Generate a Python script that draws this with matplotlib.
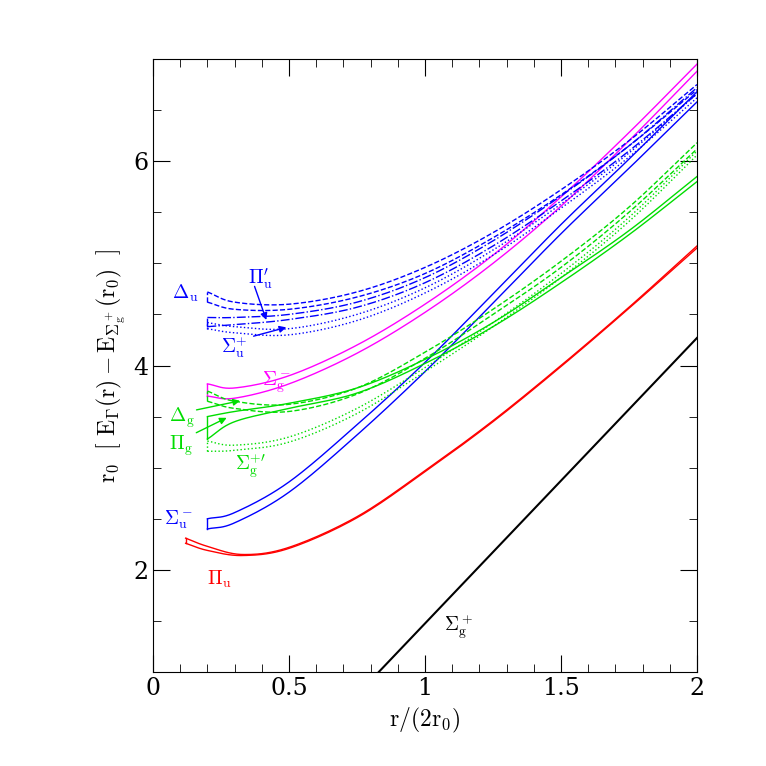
import numpy as np
import matplotlib
matplotlib.use("Agg")
import matplotlib.pyplot as plt
from matplotlib.ticker import MultipleLocator

plt.rcParams['mathtext.fontset'] = 'cm'
plt.rcParams['font.family'] = 'DejaVu Serif'

x_sgp = [0.83, 2.0]; y_sgp = [1.0, 4.27]

x_pu = [0.12, 0.2, 0.33, 0.5, 0.75, 1.0, 1.25, 1.5, 1.75, 2.0]
pu_hi = [2.31, 2.23, 2.15, 2.22, 2.52, 2.97, 3.46, 4.00, 4.57, 5.17]
pu_lo = [2.26, 2.19, 2.14, 2.21, 2.51, 2.96, 3.45, 3.99, 4.56, 5.15]

x_b = [0.2, 0.3, 0.5, 0.75, 1.0, 1.25, 1.5, 1.75, 2.0]
sum_hi = [2.50, 2.56, 2.86, 3.42, 4.03, 4.70, 5.38, 6.02, 6.68]
sum_lo = [2.40, 2.46, 2.76, 3.32, 3.94, 4.61, 5.29, 5.93, 6.58]

sgm_hi = [3.82, 3.78, 3.90, 4.20, 4.60, 5.08, 5.65, 6.28, 6.95]
sgm_lo = [3.70, 3.68, 3.82, 4.12, 4.52, 5.00, 5.56, 6.20, 6.88]

pig_hi = [3.50, 3.55, 3.63, 3.78, 4.06, 4.42, 4.86, 5.32, 5.85]
pig_lo = [3.28, 3.45, 3.58, 3.73, 4.02, 4.38, 4.81, 5.28, 5.80]

dg_hi = [3.75, 3.65, 3.62, 3.78, 4.13, 4.55, 5.02, 5.55, 6.18]
dg_lo = [3.65, 3.58, 3.55, 3.72, 4.07, 4.50, 4.96, 5.50, 6.12]

sgp2_hi = [3.26, 3.22, 3.30, 3.58, 3.98, 4.42, 4.90, 5.45, 6.10]
sgp2_lo = [3.16, 3.17, 3.25, 3.53, 3.94, 4.38, 4.86, 5.41, 6.06]

du_hi = [4.72, 4.62, 4.60, 4.72, 4.96, 5.30, 5.72, 6.20, 6.75]
du_lo = [4.62, 4.55, 4.55, 4.67, 4.90, 5.25, 5.67, 6.15, 6.70]

piu2_hi = [4.47, 4.47, 4.50, 4.62, 4.86, 5.22, 5.66, 6.15, 6.72]
piu2_lo = [4.38, 4.40, 4.45, 4.57, 4.81, 5.17, 5.61, 6.10, 6.66]

sup2_hi = [4.42, 4.38, 4.36, 4.50, 4.76, 5.13, 5.58, 6.08, 6.66]
sup2_lo = [4.36, 4.32, 4.30, 4.44, 4.71, 5.08, 5.54, 6.04, 6.62]

fig = plt.figure(figsize=(7.66, 7.66), dpi=100)
ax = fig.add_axes([153/766, 94/766, 544/766, 613/766])

def smooth(x, y, n=20):
    # Catmull-Rom curve through the given points (display only)
    x = np.asarray(x, float); y = np.asarray(y, float)
    P = np.column_stack([x, y])
    P = np.vstack([2*P[0]-P[1], P, 2*P[-1]-P[-2]])
    out = []
    t = np.linspace(0, 1, n, endpoint=False)[:, None]
    for i in range(1, len(P)-2):
        p0, p1, p2, p3 = P[i-1], P[i], P[i+1], P[i+2]
        seg = 0.5*((2*p1) + (-p0+p2)*t + (2*p0-5*p1+4*p2-p3)*t**2 + (-p0+3*p1-3*p2+p3)*t**3)
        out.append(seg)
    out.append(P[-2][None, :])
    out = np.vstack(out)
    return out[:, 0], out[:, 1]

def band(x, hi, lo, color, ls, lw=1.0):
    ax.plot(*smooth(x, hi), color=color, ls=ls, lw=lw)
    ax.plot(*smooth(x, lo), color=color, ls=ls, lw=lw)
    ax.plot([x[0], x[0]], [lo[0], hi[0]], color=color, ls=ls, lw=lw)

ax.plot(x_sgp, y_sgp, color='black', lw=1.5)
band(x_pu, pu_hi, pu_lo, 'red', '-')
band(x_b, sum_hi, sum_lo, 'blue', '-')
band(x_b, sgm_hi, sgm_lo, 'magenta', '-')
band(x_b, pig_hi, pig_lo, '#00dd00', '-')
band(x_b, dg_hi, dg_lo, '#00dd00', '--')
band(x_b, sgp2_hi, sgp2_lo, '#00dd00', ':')
band(x_b, du_hi, du_lo, 'blue', '--')
band(x_b, piu2_hi, piu2_lo, 'blue', '-.')
band(x_b, sup2_hi, sup2_lo, 'blue', ':')

fs = 14
ax.text(1.07, 1.4, r'$\Sigma_\mathrm{g}^+$', color='black', fontsize=fs)
ax.text(0.20, 1.85, r'$\Pi_\mathrm{u}$', color='red', fontsize=fs)
ax.text(0.04, 2.45, r'$\Sigma_\mathrm{u}^-$', color='blue', fontsize=fs)
ax.text(0.40, 3.8, r'$\Sigma_\mathrm{g}^-$', color='magenta', fontsize=fs)
ax.text(0.30, 2.98, r'$\Sigma_\mathrm{g}^{+\prime}$', color='#00dd00', fontsize=fs)
ax.text(0.06, 3.45, r'$\Delta_\mathrm{g}$', color='#00dd00', fontsize=fs)
ax.text(0.06, 3.18, r'$\Pi_\mathrm{g}$', color='#00dd00', fontsize=fs)
ax.text(0.07, 4.65, r'$\Delta_\mathrm{u}$', color='blue', fontsize=fs)
ax.text(0.35, 4.8, r'$\Pi_\mathrm{u}^{\prime}$', color='blue', fontsize=fs)
ax.text(0.25, 4.12, r'$\Sigma_\mathrm{u}^{+}$', color='blue', fontsize=fs)
ap = dict(arrowstyle='-|>', lw=1, mutation_scale=10)
ax.annotate('', xy=(0.50, 4.38), xytext=(0.36, 4.28), arrowprops=dict(color='blue', **ap))
ax.annotate('', xy=(0.42, 4.42), xytext=(0.37, 4.8), arrowprops=dict(color='blue', **ap))
ax.annotate('', xy=(0.33, 3.66), xytext=(0.15, 3.56), arrowprops=dict(color='#00dd00', **ap))
ax.annotate('', xy=(0.28, 3.5), xytext=(0.15, 3.33), arrowprops=dict(color='#00dd00', **ap))

ax.set_xlim(0, 2); ax.set_ylim(1, 7)
ax.xaxis.set_major_locator(MultipleLocator(0.5))
ax.xaxis.set_minor_locator(MultipleLocator(0.1))
ax.yaxis.set_major_locator(MultipleLocator(2))
ax.yaxis.set_minor_locator(MultipleLocator(0.5))
ax.tick_params(which='both', direction='in', top=True, right=True, labelsize=17)
ax.tick_params(which='major', length=12)
ax.tick_params(which='minor', length=6)
ax.set_xticks([0, 0.5, 1, 1.5, 2]); ax.set_xticklabels(['0', '0.5', '1', '1.5', '2'])
ax.set_xlabel(r'$\mathrm{r/(2r_0)}$', fontsize=17)
ax.set_ylabel(r'$\mathrm{r_0\ \ [\ E_\Gamma(r) - E_{\Sigma_g^+}(r_0)\ \ ]}$', fontsize=17)
fig.savefig('out.png', dpi=100)
